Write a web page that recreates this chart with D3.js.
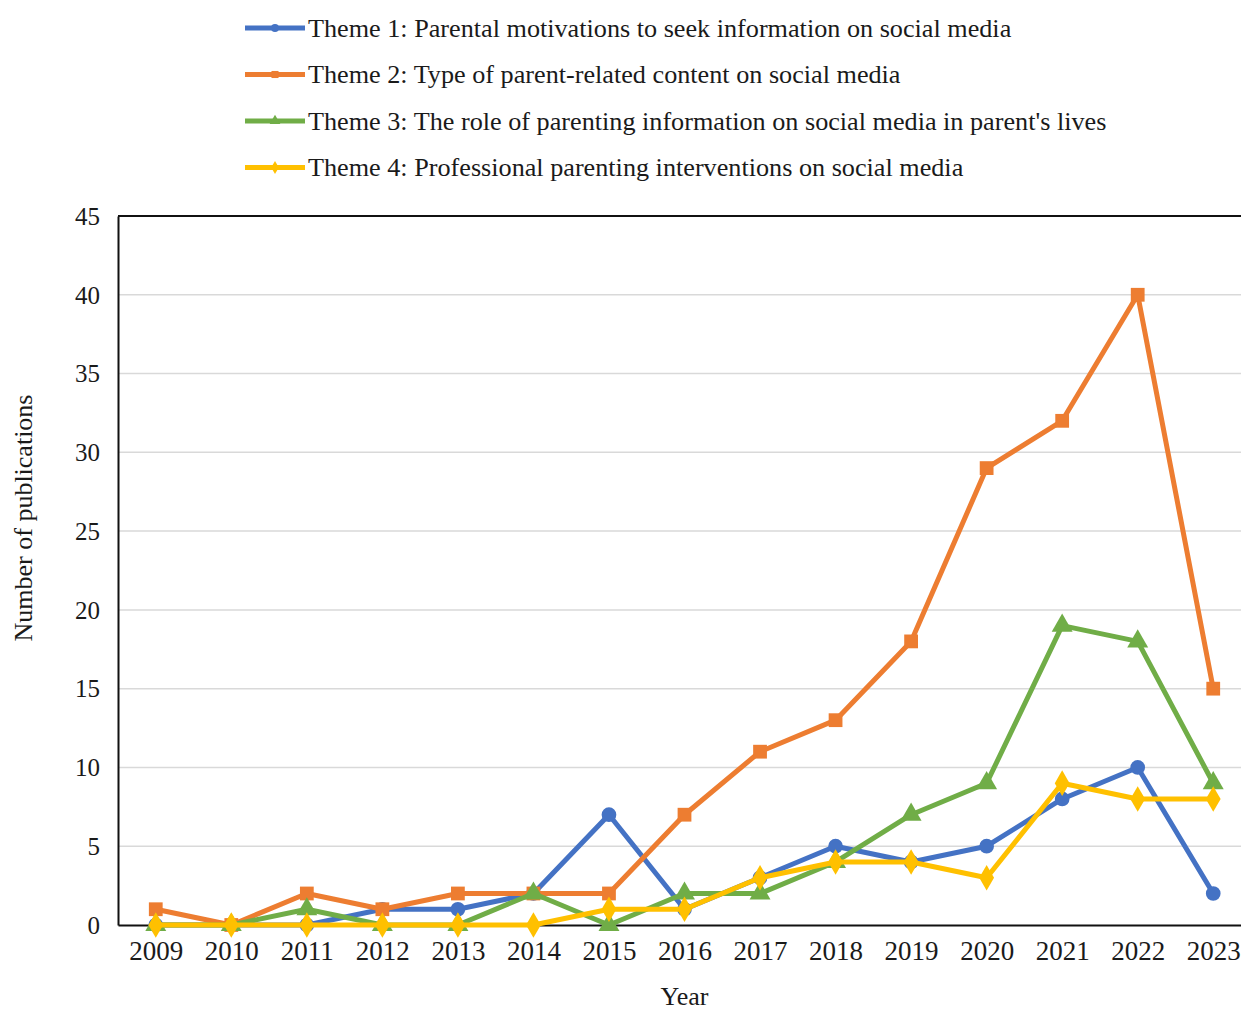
<!DOCTYPE html>
<html>
<head>
<meta charset="utf-8">
<script src="https://cdn.jsdelivr.net/npm/d3@7"></script>
<style>
  body { margin: 0; background: #fff; }
  svg { display: block; }
  text { font-family: "Liberation Serif", "Times New Roman", serif; fill: #1a1a1a; }
</style>
</head>
<body>
<div id="chart"></div>
<script>
// data
var years = [2009, 2010, 2011, 2012, 2013, 2014, 2015, 2016, 2017, 2018, 2019, 2020, 2021, 2022, 2023];
var theme1 = [0, 0, 0, 1, 1, 2, 7, 1, 3, 5, 4, 5, 8, 10, 2];
var theme2 = [1, 0, 2, 1, 2, 2, 2, 7, 11, 13, 18, 29, 32, 40, 15];
var theme3 = [0, 0, 1, 0, 0, 2, 0, 2, 2, 4, 7, 9, 19, 18, 9];
var theme4 = [0, 0, 0, 0, 0, 0, 1, 1, 3, 4, 4, 3, 9, 8, 8];
var seriesNames = [
  "Theme 1: Parental motivations to seek information on social media",
  "Theme 2: Type of parent-related content on social media",
  "Theme 3: The role of parenting information on social media in parent's lives",
  "Theme 4: Professional parenting interventions on social media"
];
var yTicks = [0, 5, 10, 15, 20, 25, 30, 35, 40, 45];

var colors = ["#4472C4", "#ED7D31", "#70AD47", "#FFC000"];
var symbols = [d3.symbolCircle, d3.symbolSquare, d3.symbolTriangle, d3.symbolDiamond];
var series = [theme1, theme2, theme3, theme4].map(function (vals, i) {
  return { name: seriesNames[i], color: colors[i], symbol: symbols[i],
           values: vals.map(function (v, j) { return { year: years[j], value: v }; }) };
});

var W = 1241, H = 1014;
var margin = { top: 216, right: -10, bottom: 89, left: 118 };

var svg = d3.select("#chart").append("svg")
    .attr("width", W)
    .attr("height", H);

var x = d3.scalePoint()
    .domain(years)
    .range([margin.left, W - margin.right])
    .padding(0.5);
var y = d3.scaleLinear()
    .domain([0, 45])
    .range([H - margin.bottom, margin.top]);

// gridlines
svg.append("g")
  .selectAll("line")
  .data(yTicks.slice(1, -1))
  .enter().append("line")
    .attr("x1", margin.left)
    .attr("x2", W - margin.right)
    .attr("y1", function (d) { return y(d); })
    .attr("y2", function (d) { return y(d); })
    .attr("stroke", "#d9d9d9")
    .attr("stroke-width", 1.5);

// frame: top, left, bottom
svg.append("line")
    .attr("x1", margin.left).attr("x2", W - margin.right)
    .attr("y1", y(45)).attr("y2", y(45))
    .attr("stroke", "#111").attr("stroke-width", 2);

var yAxis = svg.append("g")
    .attr("transform", "translate(" + margin.left + ",0)")
    .call(d3.axisLeft(y).tickValues(yTicks).tickSize(0).tickPadding(18));
yAxis.select(".domain").attr("stroke", "#111").attr("stroke-width", 2);
yAxis.selectAll("text").style("font-size", "25px").attr("dy", "0.33em");

var xAxis = svg.append("g")
    .attr("transform", "translate(0," + y(0) + ")")
    .call(d3.axisBottom(x).tickSize(0).tickPadding(16).tickSizeOuter(0));
xAxis.select(".domain").attr("stroke", "#111").attr("stroke-width", 2);
xAxis.selectAll("text").style("font-size", "27px").attr("dy", "0.71em");

// axis titles
svg.append("text")
    .attr("x", (margin.left + W - margin.right) / 2)
    .attr("y", 1005)
    .attr("text-anchor", "middle")
    .style("font-size", "26px")
    .text("Year");

svg.append("text")
    .attr("transform", "translate(32,518) rotate(-90)")
    .attr("text-anchor", "middle")
    .style("font-size", "26px")
    .text("Number of publications");

// lines and markers
var line = d3.line()
    .x(function (d) { return x(d.year); })
    .y(function (d) { return y(d.value); });

series.forEach(function (s) {
  var g = svg.append("g");
  g.append("path")
      .datum(s.values)
      .attr("d", line)
      .attr("fill", "none")
      .attr("stroke", s.color)
      .attr("stroke-width", 5)
      .attr("stroke-linejoin", "round");
  g.selectAll("path.marker")
      .data(s.values)
      .enter().append("path")
      .attr("class", "marker")
      .attr("d", d3.symbol().type(s.symbol).size(s.symbol === d3.symbolCircle ? 170 : 190))
      .attr("transform", function (d) { return "translate(" + x(d.year) + "," + y(d.value) + ")"; })
      .attr("fill", s.color);
});

// legend
var legend = svg.append("g").selectAll("g")
    .data(series)
    .enter().append("g")
    .attr("transform", function (d, i) { return "translate(245," + (28 + i * 46.5) + ")"; });
legend.append("line")
    .attr("x1", 0).attr("x2", 60)
    .attr("stroke", function (d) { return d.color; })
    .attr("stroke-width", 5);
legend.append("path")
    .attr("d", function (d) { return d3.symbol().type(d.symbol).size(50)(); })
    .attr("transform", "translate(30,0)")
    .attr("fill", function (d) { return d.color; });
legend.append("text")
    .attr("x", 63)
    .attr("dy", "0.33em")
    .style("font-size", "26.2px")
    .text(function (d) { return d.name; });
</script>
</body>
</html>
